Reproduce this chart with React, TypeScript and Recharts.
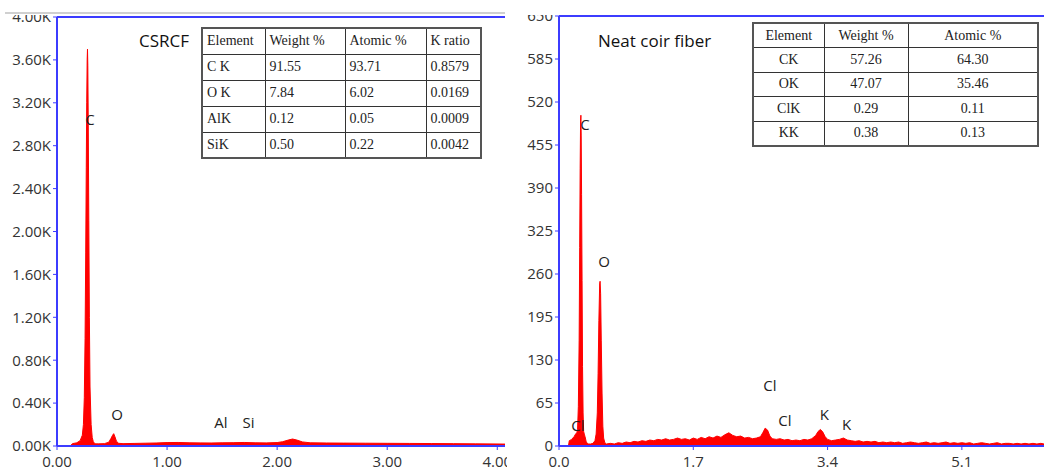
import React from 'react';
import { AreaChart, Area, XAxis, YAxis, ReferenceLine, ReferenceDot } from 'recharts';

const BLUE = '#3c3cff';
const RED = '#ff0000';
const FONT = '"Open Sans", "DejaVu Sans", sans-serif';
const SERIF = '"Liberation Serif", "DejaVu Serif", serif';

// CSRCF spectrum: energy (keV) and counts (K)
const csrcfEnergy = [
  0.12, 0.14, 0.18, 0.21, 0.23, 0.24, 0.248, 0.255, 0.261, 0.266, 0.27, 0.274, 0.277, 0.28, 0.284,
  0.289, 0.294, 0.3, 0.31, 0.32, 0.33, 0.345, 0.38, 0.43, 0.47, 0.49, 0.505, 0.515, 0.525, 0.54,
  0.56, 0.6, 0.7, 0.8, 0.9, 1.0, 1.1, 1.2, 1.3, 1.4, 1.5, 1.6, 1.7, 1.8, 1.9, 2.0, 2.05, 2.1,
  2.14, 2.18, 2.23, 2.3, 2.45, 2.6, 2.8, 3.0, 3.2, 3.4, 3.6, 3.8, 4.07,
];
const csrcfCounts = [
  0.0, 0.022, 0.03, 0.05, 0.1, 0.2, 0.45, 1.0, 1.8, 2.6, 3.2, 3.6, 3.7, 3.55, 3.0,
  2.1, 1.2, 0.55, 0.2, 0.08, 0.04, 0.02, 0.02, 0.022, 0.035, 0.07, 0.1, 0.115, 0.09, 0.045,
  0.025, 0.022, 0.024, 0.026, 0.028, 0.032, 0.033, 0.03, 0.029, 0.028, 0.03, 0.031, 0.033, 0.03, 0.029, 0.032, 0.04, 0.055,
  0.065, 0.055, 0.038, 0.03, 0.028, 0.027, 0.026, 0.025, 0.024, 0.023, 0.022, 0.02, 0.018,
];
const csrcfYTicks = [0, 0.4, 0.8, 1.2, 1.6, 2.0, 2.4, 2.8, 3.2, 3.6, 4.0];
const csrcfXTicks = [0, 1, 2, 3, 4];
const csrcfPeaks = [
  { label: 'C', e: 0.3, c: 3.04 },
  { label: 'O', e: 0.545, c: 0.29 },
  { label: 'Al', e: 1.49, c: 0.215 },
  { label: 'Si', e: 1.74, c: 0.215 },
];
const csrcfTableHead = ['Element', 'Weight %', 'Atomic %', 'K ratio'];
const csrcfTableRows = [
  ['C K', '91.55', '93.71', '0.8579'],
  ['O K', '7.84', '6.02', '0.0169'],
  ['AlK', '0.12', '0.05', '0.0009'],
  ['SiK', '0.50', '0.22', '0.0042'],
];

// Neat coir fiber spectrum: energy (keV) and counts
const coirEnergy = [
  0.12, 0.13, 0.16, 0.19, 0.21, 0.225, 0.235, 0.245, 0.255, 0.262, 0.268, 0.273, 0.277, 0.281, 0.286,
  0.292, 0.298, 0.305, 0.312, 0.32, 0.33, 0.345, 0.37, 0.4, 0.43, 0.455, 0.47, 0.485, 0.495, 0.505,
  0.515, 0.52, 0.527, 0.535, 0.545, 0.555, 0.565, 0.58,
  0.6, 0.65, 0.7, 0.75, 0.8, 0.85, 0.9, 0.95, 1.0, 1.05, 1.1, 1.15, 1.2, 1.25, 1.3, 1.35, 1.4, 1.45,
  1.5, 1.55, 1.6, 1.65, 1.7, 1.75, 1.8, 1.85, 1.9, 1.95, 2.0, 2.05, 2.1, 2.15, 2.2, 2.25, 2.3, 2.35,
  2.4, 2.45, 2.5, 2.55, 2.58, 2.61, 2.64, 2.67, 2.7, 2.75, 2.8, 2.85, 2.9, 2.95, 3.0, 3.05, 3.1, 3.15,
  3.2, 3.25, 3.28, 3.31, 3.34, 3.37, 3.4, 3.45, 3.5, 3.55, 3.6, 3.65, 3.7, 3.75, 3.8, 3.85, 3.9, 3.95,
  4.0, 4.05, 4.1, 4.15, 4.2, 4.25, 4.3, 4.35, 4.4, 4.45, 4.5, 4.55, 4.6, 4.65, 4.7, 4.75, 4.8, 4.85,
  4.9, 4.95, 5.0, 5.05, 5.1, 5.15, 5.2, 5.25, 5.3, 5.35, 5.4, 5.45, 5.5, 5.55, 5.6, 5.65, 5.7, 5.75,
  5.8, 5.85, 5.9, 5.95, 6.0, 6.05, 6.1, 6.14,
];
const coirCounts = [
  0, 8, 10, 14, 18, 20, 25, 60, 160, 300, 420, 490, 500, 470, 380,
  250, 120, 50, 22, 18, 14, 6, 3, 3, 4, 8, 18, 50, 110, 190,
  245, 249, 230, 160, 80, 30, 12, 5,
  3, 4, 3, 5, 4, 6, 5, 7, 6, 8, 7, 9, 8, 10, 9, 11, 9, 10,
  12, 10, 11, 9, 12, 10, 13, 11, 14, 12, 15, 13, 17, 20, 16, 14, 15, 12,
  13, 11, 12, 14, 20, 27, 24, 15, 11, 10, 11, 9, 10, 8, 9, 8, 10, 9,
  11, 16, 22, 25, 21, 14, 10, 8, 9, 10, 12, 9, 8, 7, 8, 6, 7, 6,
  7, 5, 6, 5, 6, 5, 6, 4, 5, 6, 5, 4, 5, 6, 4, 5, 4, 5,
  6, 4, 5, 4, 5, 4, 5, 3, 4, 5, 4, 3, 4, 5, 3, 4, 4, 3,
  4, 3, 4, 3, 4, 3, 4, 3,
];
const coirYTicks = [0, 65, 130, 195, 260, 325, 390, 455, 520, 585, 650];
const coirXTicks = [0, 1.7, 3.4, 5.1];
const coirPeaks = [
  { label: 'C', e: 0.33, c: 486 },
  { label: 'O', e: 0.57, c: 279 },
  { label: 'Cl', e: 0.24, c: 30 },
  { label: 'Cl', e: 2.67, c: 91 },
  { label: 'Cl', e: 2.86, c: 38 },
  { label: 'K', e: 3.36, c: 48 },
  { label: 'K', e: 3.64, c: 32 },
];
const coirTableHead = ['Element', 'Weight %', 'Atomic %'];
const coirTableRows = [
  ['CK', '57.26', '64.30'],
  ['OK', '47.07', '35.46'],
  ['ClK', '0.29', '0.11'],
  ['KK', '0.38', '0.13'],
];

const csrcfData = csrcfEnergy.map((e, i) => ({ e, c: csrcfCounts[i] }));
const coirData = coirEnergy.map((e, i) => ({ e, c: coirCounts[i] }));

const tickStyle = { fill: '#333', fontSize: 15, fontFamily: FONT };

const peakLabel = (p: { label: string; e: number; c: number }, i: number) => (
  <ReferenceDot
    key={i}
    x={p.e}
    y={p.c}
    r={0}
    fill="none"
    stroke="none"
    label={{ value: p.label, position: 'center', fill: '#222', fontSize: 15, fontFamily: FONT }}
  />
);

const DataTable: React.FC<{
  head: string[];
  rows: string[][];
  widths: number[];
  rowH: number;
  align: 'left' | 'center';
  style: React.CSSProperties;
}> = ({ head, rows, widths, rowH, align, style }) => {
  const cell: React.CSSProperties = {
    border: '1.5px solid #333',
    height: rowH,
    padding: align === 'left' ? '0 4px' : 0,
    textAlign: align,
    fontFamily: SERIF,
    fontSize: 14,
    color: '#222',
    boxSizing: 'border-box',
    whiteSpace: 'nowrap',
  };
  return (
    <table style={{ position: 'absolute', borderCollapse: 'collapse', border: '2px solid #555', tableLayout: 'fixed', ...style }}>
      <colgroup>
        {widths.map((w, i) => <col key={i} style={{ width: w }} />)}
      </colgroup>
      <tbody>
        <tr>{head.map((h, i) => <td key={i} style={cell}>{h}</td>)}</tr>
        {rows.map((r, j) => (
          <tr key={j}>{r.map((v, i) => <td key={i} style={cell}>{v}</td>)}</tr>
        ))}
      </tbody>
    </table>
  );
};

export default function App() {
  return (
    <div style={{ position: 'absolute', left: 0, top: 0, width: 1044, height: 468, overflow: 'hidden', background: '#fff' }}>
      <div style={{ position: 'absolute', left: 0, top: 0 }}>
        <AreaChart width={520} height={468} data={csrcfData} margin={{ top: 17, right: 15, left: 7, bottom: 0 }}>
          <XAxis
            dataKey="e"
            type="number"
            domain={[0, 4.07]}
            ticks={csrcfXTicks}
            tickFormatter={(v: number) => v.toFixed(2)}
            axisLine={{ stroke: BLUE, strokeWidth: 2 }}
            tickLine={{ stroke: BLUE }}
            tickSize={4}
            tickMargin={6}
            height={22}
            tick={tickStyle}
            interval={0}
            allowDataOverflow
          />
          <YAxis
            type="number"
            domain={[0, 4]}
            ticks={csrcfYTicks}
            tickFormatter={(v: number) => v.toFixed(2) + 'K'}
            axisLine={{ stroke: BLUE, strokeWidth: 2 }}
            tickLine={{ stroke: BLUE }}
            tickSize={4}
            width={50}
            tick={tickStyle}
            interval={0}
          />
          <ReferenceLine y={4} stroke={BLUE} strokeWidth={2} />
          <Area
            type="linear"
            dataKey="c"
            stroke={RED}
            strokeWidth={1}
            fill={RED}
            fillOpacity={1}
            dot={false}
            activeDot={false}
            isAnimationActive={false}
          />
          {csrcfPeaks.map(peakLabel)}
        </AreaChart>
      </div>
      <div style={{ position: 'absolute', left: 139, top: 29, fontFamily: FONT, fontSize: 17, color: '#111' }}>CSRCF</div>
      <DataTable
        head={csrcfTableHead}
        rows={csrcfTableRows}
        widths={[63, 80, 81, 55]}
        rowH={26}
        align="left"
        style={{ left: 201, top: 27, width: 280 }}
      />

      <div style={{ position: 'absolute', left: 507, top: 0, width: 537, height: 468, background: '#fff' }}>
        <AreaChart width={537} height={468} data={coirData} margin={{ top: 16, right: 0, left: 2, bottom: 0 }}>
          <XAxis
            dataKey="e"
            type="number"
            domain={[0, 6.14]}
            ticks={coirXTicks}
            tickFormatter={(v: number) => v.toFixed(1)}
            axisLine={{ stroke: BLUE, strokeWidth: 2 }}
            tickLine={{ stroke: BLUE }}
            tickSize={4}
            tickMargin={6}
            height={22}
            tick={tickStyle}
            interval={0}
            allowDataOverflow
          />
          <YAxis
            type="number"
            domain={[0, 650]}
            ticks={coirYTicks}
            axisLine={{ stroke: BLUE, strokeWidth: 2 }}
            tickLine={{ stroke: BLUE }}
            tickSize={4}
            width={50}
            tick={tickStyle}
            interval={0}
          />
          <ReferenceLine y={650} stroke={BLUE} strokeWidth={2} />
          <Area
            type="linear"
            dataKey="c"
            stroke={RED}
            strokeWidth={1}
            fill={RED}
            fillOpacity={1}
            dot={false}
            activeDot={false}
            isAnimationActive={false}
          />
          {coirPeaks.map(peakLabel)}
        </AreaChart>
      </div>
      <div style={{ position: 'absolute', left: 598, top: 29, fontFamily: FONT, fontSize: 17, color: '#111' }}>Neat coir fiber</div>
      <DataTable
        head={coirTableHead}
        rows={coirTableRows}
        widths={[71, 84, 130]}
        rowH={24.5}
        align="center"
        style={{ left: 752, top: 22, width: 285 }}
      />

      <div style={{ position: 'absolute', left: 0, top: 0, width: 1044, height: 15, background: '#fff' }} />
      <div style={{ position: 'absolute', left: 5, top: 12, width: 500, height: 1.5, background: '#d0d0d0' }} />
    </div>
  );
}
